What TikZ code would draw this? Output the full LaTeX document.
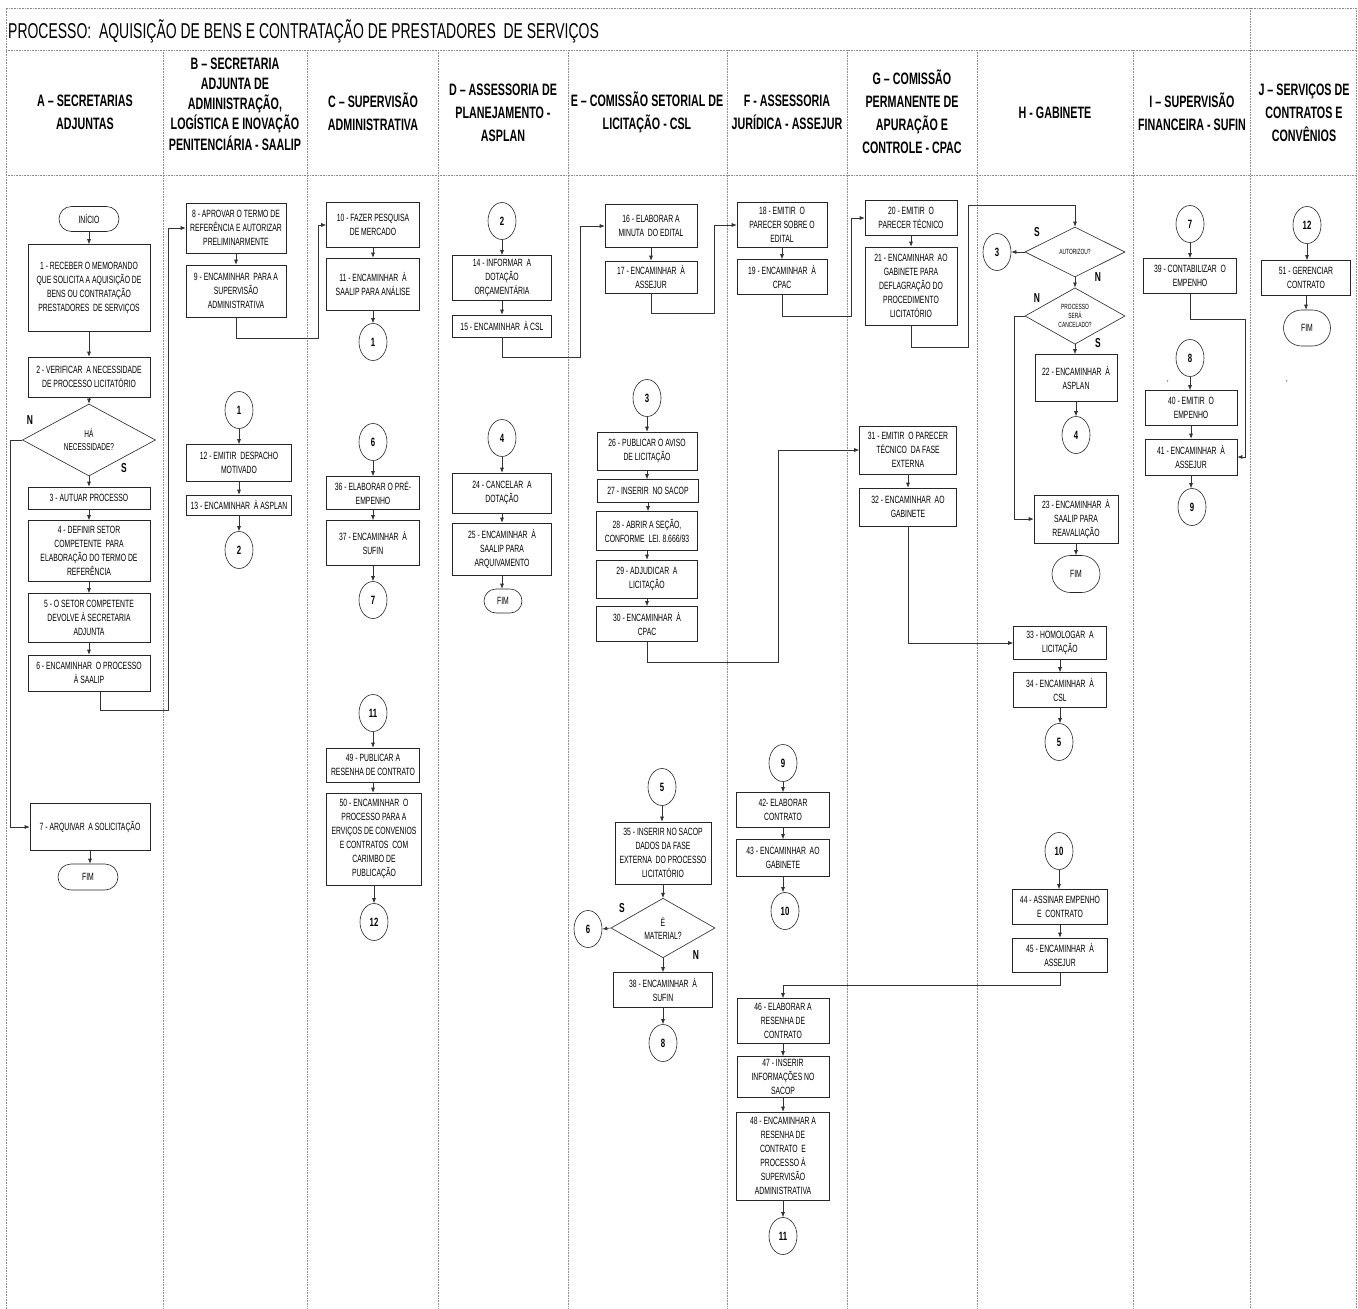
\documentclass[tikz,border=0pt]{standalone}
\usepackage{fontspec}
\setmainfont{Liberation Sans}[FakeStretch=0.65]
\usetikzlibrary{shapes.geometric,shapes.misc,arrows.meta}
\newcommand\Bx[6]{\node[box,minimum width=#4pt,minimum height=#5pt] (#1) at (#2,#3) {#6};}
\newcommand\Cn[4]{\node[conn] (#1) at (#2,#3) {#4};}
\newcommand\Vd[2]{\draw[ar] (#1.south) -- (#1.south |- #2.north);}
\begin{document}
\begin{tikzpicture}[x=1pt,y=-1pt,
  box/.style={draw=black!85,line width=0.6pt,fill=white,align=center,inner sep=1pt,font=\fontsize{10.5}{14}\selectfont,text=black},
  term/.style={rounded rectangle,draw=black!85,line width=0.6pt,fill=white,inner sep=1pt,font=\fontsize{10.5}{12}\selectfont,text=black},
  conn/.style={ellipse,draw=black!85,line width=0.6pt,fill=white,minimum width=28pt,minimum height=37pt,inner sep=0pt,font=\fontsize{12}{12}\selectfont\bfseries},
  dec/.style={diamond,draw=black!85,line width=0.6pt,fill=white,inner sep=0pt,align=center,text=black},
  ar/.style={draw=black!80,line width=0.6pt,-{Latex[length=5pt,width=4pt]}},
  lane/.style={draw=black!45,line width=0.8pt,dash pattern=on 0.8pt off 0.8pt},
  hd/.style={align=center,font=\fontsize{16.5}{23}\selectfont\bfseries},
  yn/.style={font=\fontsize{13}{13}\selectfont\bfseries}
]
\useasboundingbox (0,0) rectangle (1358,1309);
\fill[white] (0,0) rectangle (1358,1309);
% frame and lanes
\draw[lane] (6,1309) -- (6,8) -- (1356,8) -- (1356,1309);
\draw[lane] (6,50) -- (1356,50);
\draw[lane] (6,175) -- (1356,175);
\draw[lane] (1250,8) -- (1250,1309);
\foreach \lx in {163,307,438,568,727,847,977,1133} \draw[lane] (\lx,50) -- (\lx,1309);
% title and headers
\node[anchor=west,font=\fontsize{21.5}{24}\selectfont,inner sep=0pt] (title) at (8,31) {PROCESSO:~ AQUISIÇÃO DE BENS E CONTRATAÇÃO DE PRESTADORES~ DE SERVIÇOS};
\node[hd] (hA) at (85,112) {A – SECRETARIAS\\ADJUNTAS};
\node[hd,font=\fontsize{16.5}{20.2}\selectfont\bfseries] (hB) at (235,104) {B – SECRETARIA\\ADJUNTA DE\\ADMINISTRAÇÃO,\\LOGÍSTICA E INOVAÇÃO\\PENITENCIÁRIA - SAALIP};
\node[hd] (hC) at (373,112) {C – SUPERVISÃO\\ADMINISTRATIVA};
\node[hd] (hD) at (503,113) {D – ASSESSORIA DE\\PLANEJAMENTO -\\ASPLAN};
\node[hd] (hE) at (647,112) {E – COMISSÃO SETORIAL DE\\LICITAÇÃO - CSL};
\node[hd] (hF) at (787,112) {F - ASSESSORIA\\JURÍDICA - ASSEJUR};
\node[hd] (hG) at (912,112) {G – COMISSÃO\\PERMANENTE DE\\APURAÇÃO E\\CONTROLE - CPAC};
\node[hd] (hH) at (1055,113) {H - GABINETE};
\node[hd] (hI) at (1192,112) {I – SUPERVISÃO\\FINANCEIRA - SUFIN};
\node[hd] (hJ) at (1304,113) {J – SERVIÇOS DE\\CONTRATOS E\\CONVÊNIOS};
% column A
\node[term,minimum width=62pt,minimum height=25pt] (ini) at (89,219) {INÍCIO};
\Bx{a1}{89}{288}{122}{87}{1 - RECEBER O MEMORANDO\\QUE SOLICITA A AQUISIÇÃO DE\\BENS OU CONTRATAÇÃO\\PRESTADORES~ DE SERVIÇOS}
\Bx{a2}{89}{377}{122}{40}{2 - VERIFICAR~ A NECESSIDADE\\DE PROCESSO LICITATÓRIO}
\node[dec,minimum width=133pt,minimum height=60pt,font=\fontsize{10}{13}\selectfont] (dA) at (89,440) {HÁ\\NECESSIDADE?};
\Bx{a3}{89}{498}{122}{22}{3 - AUTUAR PROCESSO}
\Bx{a4}{89}{551}{122}{61}{4 - DEFINIR SETOR\\COMPETENTE~ PARA\\ELABORAÇÃO DO TERMO DE\\REFERÊNCIA}
\Bx{a5}{89}{618}{122}{49}{5 - O SETOR COMPETENTE\\DEVOLVE À SECRETARIA\\ADJUNTA}
\Bx{a6}{89}{673}{122}{36}{6 - ENCAMINHAR~ O PROCESSO\\À SAALIP}
\Bx{a7}{90}{827}{120}{47}{7 - ARQUIVAR~ A SOLICITAÇÃO}
\node[term,minimum width=62pt,minimum height=26pt] (fA) at (88,877) {FIM};
\node[yn] (nA) at (30,420) {N};
\node[yn] (sA) at (124,468) {S};
% column B
\Bx{b8}{236}{228}{100}{50}{8 - APROVAR O TERMO DE\\REFERÊNCIA E AUTORIZAR\\PRELIMINARMENTE}
\Bx{b9}{236}{291}{100}{52}{9 - ENCAMINHAR~ PARA A\\SUPERVISÃO\\ADMINISTRATIVA}
\Cn{cB1}{239}{410}{1}
\Bx{b12}{239}{463}{105}{37}{12 - EMITIR~ DESPACHO\\MOTIVADO}
\Bx{b13}{239}{505}{105}{20}{13 - ENCAMINHAR~ À ASPLAN}
\Cn{cB2}{239}{550}{2}
% column C
\Bx{c10}{373}{225}{93}{45}{10 - FAZER PESQUISA\\DE MERCADO}
\Bx{c11}{373}{284}{93}{52}{11 - ENCAMINHAR~ À\\SAALIP PARA ANÁLISE}
\Cn{cC1}{373}{342}{1}
\Cn{cC6}{373}{442}{6}
\Bx{c36}{373}{493}{93}{33}{36 - ELABORAR O PRÉ-\\EMPENHO}
\Bx{c37}{373}{543}{93}{45}{37 - ENCAMINHAR~ À\\SUFIN}
\Cn{cC7}{373}{600}{7}
\Cn{cC11}{373}{713}{11}
\Bx{c49}{373}{765}{93}{34}{49 - PUBLICAR A\\RESENHA DE CONTRATO}
\Bx{c50}{374}{839}{95}{92}{50 - ENCAMINHAR~ O\\PROCESSO PARA A\\ERVIÇOS DE CONVENIOS\\E CONTRATOS~ COM\\CARIMBO DE\\PUBLICAÇÃO}
\Cn{cC12}{374}{922}{12}
% column D
\Cn{cD2}{502}{221}{2}
\Bx{d14}{502}{278}{99}{45}{14 - INFORMAR~ A\\DOTAÇÃO\\ORÇAMENTÁRIA}
\Bx{d15}{502}{326}{99}{22}{15 - ENCAMINHAR~ À CSL}
\Cn{cD4}{502}{438}{4}
\Bx{d24}{502}{493}{99}{40}{24 - CANCELAR~ A\\DOTAÇÃO}
\Bx{d25}{502}{549}{99}{52}{25 - ENCAMINHAR~ À\\SAALIP PARA\\ARQUIVAMENTO}
\node[term,minimum width=40pt,minimum height=24pt] (fD) at (503,601) {FIM};
% column E
\Bx{e16}{651}{226}{92}{43}{16 - ELABORAR A\\MINUTA~ DO EDITAL}
\Bx{e17}{651}{277}{92}{32}{17 - ENCAMINHAR~ À\\ASSEJUR}
\Cn{cE3}{647}{398}{3}
\Bx{e26}{647}{451}{100}{38}{26 - PUBLICAR O AVISO\\DE LICITAÇÃO}
\Bx{e27}{648}{491}{101}{23}{27 - INSERIR~ NO SACOP}
\Bx{e28}{647}{531}{101}{39}{28 - ABRIR A SEÇÃO,\\CONFORME~ LEI. 8.666/93}
\Bx{e29}{647}{579}{101}{38}{29 - ADJUDICAR~ A\\LICITAÇÃO}
\Bx{e30}{647}{624}{101}{35}{30 - ENCAMINHAR~ À\\CPAC}
\Cn{cE5}{662}{787}{5}
\Bx{e35}{663}{853}{96}{62}{35 - INSERIR NO SACOP\\DADOS DA FASE\\EXTERNA~ DO PROCESSO\\LICITATÓRIO}
\node[dec,minimum width=104pt,minimum height=58pt,font=\fontsize{10.5}{13}\selectfont] (dE) at (663,928) {É\\MATERIAL?};
\Cn{cE6}{588}{929}{6}
\Bx{e38}{663}{990}{99}{35}{38 - ENCAMINHAR~ À\\SUFIN}
\Cn{cE8}{663}{1043}{8}
\node[yn] (sE) at (622,908) {S};
\node[yn] (nE) at (696,955) {N};
% column F
\Bx{f18}{782}{225}{90}{45}{18 - EMITIR~ O\\PARECER SOBRE O\\EDITAL}
\Bx{f19}{782}{277}{90}{35}{19 - ENCAMINHAR~ À\\CPAC}
\Cn{cF9}{783}{763}{9}
\Bx{f42}{783}{810}{93}{35}{42- ELABORAR\\CONTRATO}
\Bx{f43}{783}{858}{93}{37}{43 - ENCAMINHAR~ AO\\GABINETE}
\Cn{cF10}{785}{911}{10}
\Bx{f46}{783}{1021}{92}{45}{46 - ELABORAR A\\RESENHA DE\\CONTRATO}
\Bx{f47}{783}{1077}{92}{41}{47 - INSERIR\\INFORMAÇÕES NO\\SACOP}
\Bx{f48}{783}{1156}{93}{88}{48 - ENCAMINHAR A\\RESENHA DE\\CONTRATO~ E\\PROCESSO À\\SUPERVISÃO\\ADMINISTRATIVA}
\Cn{cF11}{783}{1236}{11}
% column G
\Bx{g20}{911}{218}{92}{35}{20 - EMITIR~ O\\PARECER TÉCNICO}
\Bx{g21}{911}{286}{92}{78}{21 - ENCAMINHAR~ AO\\GABINETE PARA\\DEFLAGRAÇÃO DO\\PROCEDIMENTO\\LICITATÓRIO}
\Bx{g31}{908}{450}{97}{48}{31 - EMITIR~ O PARECER\\TÉCNICO~ DA FASE\\EXTERNA}
\Bx{g32}{908}{507}{97}{38}{32 - ENCAMINHAR~ AO\\GABINETE}
% column H
\node[dec,minimum width=100pt,minimum height=50pt,font=\fontsize{7.5}{9}\selectfont] (dH1) at (1075,252) {AUTORIZOU?};
\Cn{cH3}{997}{252}{3}
\node[dec,minimum width=100pt,minimum height=52pt,font=\fontsize{7.5}{9}\selectfont] (dH2) at (1075,316) {PROCESSO\\SERÁ\\CANCELADO?};
\Bx{h22}{1076}{378}{82}{47}{22 - ENCAMINHAR~ À\\ASPLAN}
\Cn{cH4}{1076}{435}{4}
\Bx{h23}{1076}{519}{84}{48}{23 - ENCAMINHAR~ À\\SAALIP PARA\\REAVALIAÇÃO}
\node[term,minimum width=50pt,minimum height=37pt] (fH) at (1076,574) {FIM};
\Bx{h33}{1060}{643}{93}{33}{33 - HOMOLOGAR~ A\\LICITAÇÃO}
\Bx{h34}{1060}{690}{93}{35}{34 - ENCAMINHAR~ À\\CSL}
\Cn{cH5}{1059}{742}{5}
\Cn{cH10}{1059}{851}{10}
\Bx{h44}{1060}{907}{95}{35}{44 - ASSINAR EMPENHO\\E~ CONTRATO}
\Bx{h45}{1060}{955}{95}{34}{45 - ENCAMINHAR~ À\\ASSEJUR}
\node[yn] (sH1) at (1037,232) {S};
\node[yn] (nH1) at (1098,277) {N};
\node[yn] (nH2) at (1037,298) {N};
\node[yn] (sH2) at (1098,343) {S};
% column I
\Cn{cI7}{1190}{224}{7}
\Bx{i39}{1190}{276}{93}{35}{39 - CONTABILIZAR~ O\\EMPENHO}
\Cn{cI8}{1190}{358}{8}
\Bx{i40}{1191}{408}{92}{35}{40 - EMITIR~ O\\EMPENHO}
\Bx{i41}{1191}{457}{92}{36}{41 - ENCAMINHAR~ À\\ASSEJUR}
\Cn{cI9}{1192}{507}{9}
\node[font=\fontsize{9}{9}\selectfont] (tk1) at (1168,382) {,};
% column J
\Cn{cJ12}{1307}{225}{12}
\Bx{j51}{1306}{278}{89}{35}{51 - GERENCIAR\\CONTRATO}
\node[term,minimum width=49pt,minimum height=36pt] (fJ) at (1307,328) {FIM};
\node[font=\fontsize{9}{9}\selectfont] (tk2) at (1287,382) {,};
% vertical connectors
\Vd{ini}{a1}\Vd{a1}{a2}\Vd{a2}{dA}\Vd{dA}{a3}\Vd{a3}{a4}\Vd{a4}{a5}\Vd{a5}{a6}\Vd{a7}{fA}
\Vd{b8}{b9}\Vd{cB1}{b12}\Vd{b12}{b13}\Vd{b13}{cB2}
\Vd{c10}{c11}\Vd{c11}{cC1}\Vd{cC6}{c36}\Vd{c36}{c37}\Vd{c37}{cC7}\Vd{cC11}{c49}\Vd{c49}{c50}\Vd{c50}{cC12}
\Vd{cD2}{d14}\Vd{d14}{d15}\Vd{cD4}{d24}\Vd{d24}{d25}\Vd{d25}{fD}
\Vd{e16}{e17}\Vd{cE3}{e26}\Vd{e26}{e27}\Vd{e27}{e28}\Vd{e28}{e29}\Vd{e29}{e30}\Vd{cE5}{e35}\Vd{e35}{dE}\Vd{dE}{e38}\Vd{e38}{cE8}
\Vd{f18}{f19}\Vd{cF9}{f42}\Vd{f42}{f43}\Vd{f43}{cF10}\Vd{f46}{f47}\Vd{f47}{f48}\Vd{f48}{cF11}
\Vd{g20}{g21}\Vd{g31}{g32}
\Vd{dH1}{dH2}\Vd{dH2}{h22}\Vd{h22}{cH4}\Vd{h23}{fH}\Vd{h33}{h34}\Vd{h34}{cH5}\Vd{cH10}{h44}\Vd{h44}{h45}
\Vd{cI7}{i39}\Vd{cI8}{i40}\Vd{i40}{i41}\Vd{i41}{cI9}
\Vd{cJ12}{j51}\Vd{j51}{fJ}
% routed connectors
\draw[ar] (dA.west) -- (10,0 |- dA.west) -- (10,0 |- a7.west) -- (a7.west);
\draw[ar] (100,0 |- a6.south) -- (100,710) -- (168,710) -- (168,0 |- b8.west) -- (b8.west);
\draw[ar] (b9.south) -- (b9.south |- 0,338) -- (318,338) -- (318,0 |- c10.west) -- (c10.west);
\draw[ar] (d15.south) -- (d15.south |- 0,357) -- (580,357) -- (580,0 |- e16.west) -- (e16.west);
\draw[ar] (e17.south) -- (e17.south |- 0,313) -- (714,313) -- (714,0 |- f18.west) -- (f18.west);
\draw[ar] (e30.south) -- (e30.south |- 0,662) -- (778,662) -- (778,0 |- g31.west) -- (g31.west);
\draw[ar] (f19.south) -- (f19.south |- 0,316) -- (851,316) -- (851,0 |- g20.west) -- (g20.west);
\draw[ar] (g21.south) -- (g21.south |- 0,347) -- (968,347) -- (968,205) -- (dH1.north |- 0,205) -- (dH1.north);
\draw[ar] (g32.south) -- (g32.south |- h33.west) -- (h33.west);
\draw[ar] (dH1.west) -- (cH3.east);
\draw[ar] (dH2.west) -- (1014,0 |- dH2.west) -- (1014,0 |- h23.west) -- (h23.west);
\draw[ar] (h45.south) -- (h45.south |- 0,985) -- (f46.north |- 0,985) -- (f46.north);
\draw[ar] (i39.south) -- (i39.south |- 0,319) -- (1245,319) -- (1245,0 |- i41.east) -- (i41.east);
\draw[ar] (dE.west) -- (cE6.east);
\end{tikzpicture}
\end{document}
